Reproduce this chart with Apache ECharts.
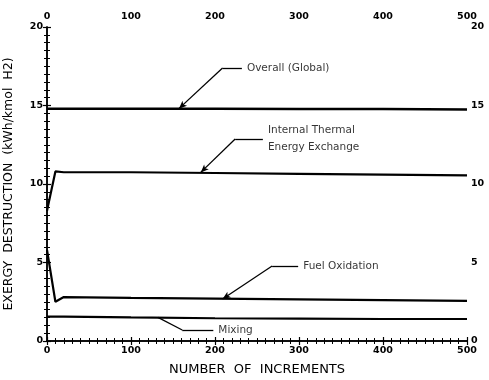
<!DOCTYPE html>
<html>
<head>
<meta charset="utf-8">
<script src="https://cdn.jsdelivr.net/npm/echarts@6/dist/echarts.min.js"></script>
<style>
  html, body { margin: 0; padding: 0; background: #fff; }
  #chart { width: 489px; height: 380px; }
</style>
</head>
<body>
<div id="chart"></div>
<script>
// Exergy destruction per process vs. number of increments
const increments = [0, 10, 20, 100, 200, 300, 400, 500];
const overall    = [14.8, 14.8, 14.8, 14.8, 14.8, 14.78, 14.78, 14.75];
const internal   = [8.3, 10.8, 10.75, 10.75, 10.7, 10.65, 10.6, 10.55];
const fuelOx     = [5.8, 2.5, 2.8, 2.75, 2.7, 2.65, 2.6, 2.55];
const mixing     = [1.55, 1.55, 1.55, 1.5, 1.45, 1.42, 1.4, 1.4];

const xTicks = [0, 100, 200, 300, 400, 500];
const yTicks = [0, 5, 10, 15, 20];

// Callouts: label text, label anchor, elbow, arrow tip (data space)
const calloutText   = ['Overall (Global)', 'Internal Thermal\nEnergy Exchange', 'Fuel Oxidation', 'Mixing'];
const calloutLabel  = [[232, 17.39], [257, 12.87], [299, 4.78], [198, 0.7]];
const calloutElbow  = [[209, 17.39], [224, 12.87], [268, 4.78], [161, 0.7]];
const calloutTip    = [[157, 14.8], [183, 10.74], [209, 2.68], [132, 1.5]];
const calloutArrow  = [true, true, true, false];

const pairs = vals => increments.map((x, i) => [x, vals[i]]);

const tickFont = { fontFamily: 'DejaVu Sans', fontSize: 9.5, fontWeight: 'bold', color: '#000' };

function xAxisCfg(pos) {
  return {
    type: 'value', position: pos, min: 0, max: 500, interval: 100,
    axisLine: { show: true, lineStyle: { color: '#000', width: 1.5 } },
    axisTick: { show: true, inside: false, length: 4, lineStyle: { color: '#000', width: 1.2 } },
    minorTick: { show: true, splitNumber: 10, length: 3, lineStyle: { color: '#000', width: 1 } },
    splitLine: { show: false },
    axisLabel: Object.assign({ margin: 5, formatter: v => xTicks.includes(v) ? String(v) : '' }, tickFont)
  };
}
function yAxisCfg(pos) {
  return {
    type: 'value', position: pos, min: 0, max: 20, interval: 5,
    axisLine: { show: true, lineStyle: { color: '#000', width: 1.5 } },
    axisTick: { show: true, inside: false, length: 4, lineStyle: { color: '#000', width: 1.2 } },
    minorTick: { show: true, splitNumber: 10, length: 3, lineStyle: { color: '#000', width: 1 } },
    splitLine: { show: false },
    axisLabel: Object.assign({ margin: 4, formatter: v => yTicks.includes(v) ? String(v) : '' }, tickFont)
  };
}

const xBottom = xAxisCfg('bottom');
xBottom.name = 'NUMBER  OF  INCREMENTS';
xBottom.nameLocation = 'middle';
xBottom.nameGap = 22;
xBottom.nameTextStyle = { fontFamily: 'DejaVu Sans', fontSize: 13, color: '#000' };

const yLeft = yAxisCfg('left');
yLeft.name = 'EXERGY  DESTRUCTION  (kWh/kmol  H2)';
yLeft.nameLocation = 'middle';
yLeft.nameGap = 32;
yLeft.nameTextStyle = { fontFamily: 'DejaVu Sans', fontSize: 12.5, color: '#000' };

const leaderSegments = [];
calloutText.forEach((t, i) => {
  leaderSegments.push([
    { coord: calloutLabel[i], symbol: 'none' },
    { coord: calloutElbow[i], symbol: 'none' }
  ]);
  leaderSegments.push([
    { coord: calloutElbow[i], symbol: 'none' },
    { coord: calloutTip[i], symbol: calloutArrow[i] ? 'arrow' : 'none' }
  ]);
});

const curve = (name, vals, w) => ({
  name, type: 'line', data: pairs(vals), symbol: 'none', smooth: false,
  lineStyle: { color: '#000', width: w }, z: 3
});

const option = {
  animation: false,
  backgroundColor: '#fff',
  grid: { left: 47, right: 22, top: 27, bottom: 39, containLabel: false, outerBoundsMode: 'none' },
  xAxis: [xBottom, xAxisCfg('top')],
  yAxis: [yLeft, yAxisCfg('right')],
  series: [
    curve('Overall (Global)', overall, 2.5),
    curve('Internal Thermal Energy Exchange', internal, 2.2),
    curve('Fuel Oxidation', fuelOx, 2.2),
    curve('Mixing', mixing, 2.2),
    {
      name: 'leaders', type: 'line', data: [], silent: true,
      markLine: {
        silent: true, animation: false,
        symbolSize: [5, 8],
        lineStyle: { color: '#000', width: 1.3, type: 'solid' },
        label: { show: false },
        emphasis: { disabled: true },
        data: leaderSegments
      }
    },
    {
      name: 'labels', type: 'scatter', symbolSize: 0, silent: true,
      data: calloutText.map((t, i) => [calloutLabel[i][0], calloutLabel[i][1], t]),
      label: {
        show: true, position: 'right', distance: 5,
        formatter: p => p.data[2],
        fontFamily: 'DejaVu Sans', fontSize: 10.5, fontWeight: 500, color: '#000',
        lineHeight: 17, align: 'left'
      }
    }
  ]
};

const chart = echarts.init(document.getElementById('chart'), null, { renderer: 'canvas' });
chart.setOption(option);
</script>
</body>
</html>
